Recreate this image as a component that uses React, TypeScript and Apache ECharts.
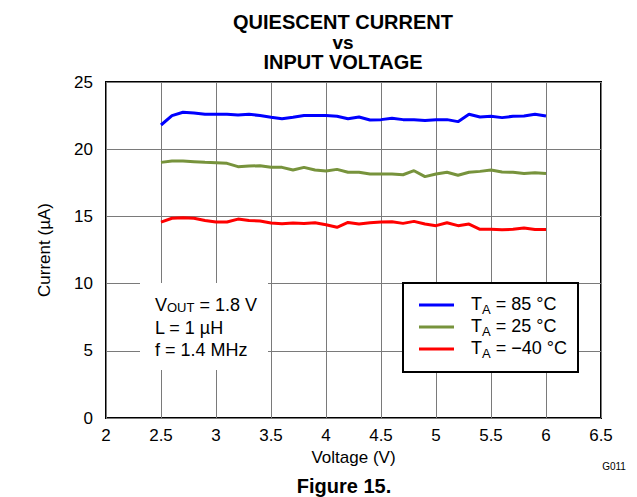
import React, { useEffect, useRef } from "react";
import * as echarts from "echarts";

const voltage = [2.5, 2.6, 2.7, 2.8, 2.9, 3.0, 3.1, 3.2, 3.3, 3.4, 3.5, 3.6, 3.7, 3.8, 3.9, 4.0, 4.1, 4.2, 4.3, 4.4, 4.5, 4.6, 4.7, 4.8, 4.9, 5.0, 5.1, 5.2, 5.3, 5.4, 5.5, 5.6, 5.7, 5.8, 5.9, 6.0];
const current85 = [21.8, 22.5, 22.75, 22.7, 22.6, 22.6, 22.6, 22.55, 22.6, 22.5, 22.37, 22.27, 22.37, 22.5, 22.5, 22.5, 22.45, 22.27, 22.4, 22.17, 22.2, 22.3, 22.2, 22.2, 22.14, 22.2, 22.2, 22.05, 22.6, 22.4, 22.45, 22.35, 22.45, 22.47, 22.6, 22.47];
const current25 = [19.02, 19.12, 19.12, 19.07, 19.02, 19.0, 18.95, 18.7, 18.75, 18.77, 18.65, 18.65, 18.45, 18.65, 18.45, 18.38, 18.5, 18.28, 18.28, 18.15, 18.15, 18.15, 18.1, 18.4, 17.96, 18.15, 18.28, 18.06, 18.28, 18.35, 18.45, 18.3, 18.28, 18.2, 18.25, 18.2];
const currentNeg40 = [14.58, 14.86, 14.9, 14.86, 14.7, 14.58, 14.58, 14.8, 14.7, 14.66, 14.51, 14.46, 14.51, 14.48, 14.53, 14.38, 14.19, 14.55, 14.43, 14.53, 14.58, 14.6, 14.48, 14.63, 14.43, 14.31, 14.53, 14.31, 14.43, 14.04, 14.04, 14.0, 14.04, 14.14, 14.02, 14.02];

const seriesNames = ["TA = 85 °C", "TA = 25 °C", "TA = −40 °C"];
const legendSuffix = [" = 85 °C", " = 25 °C", " = −40 °C"];
const seriesColors = ["#0000FF", "#77933C", "#FF0000"];

const FONT = "'Liberation Sans', Arial, sans-serif";

export default function App() {
  const ref = useRef<HTMLDivElement>(null);
  useEffect(() => {
    if (!ref.current) return;
    const chart = echarts.init(ref.current, null, { renderer: "svg" });
    const allSeries = [current85, current25, currentNeg40];
    const subRich = {
      t: { fontSize: 18, fontFamily: FONT, color: "#000", lineHeight: 20, verticalAlign: "top" },
      t0: { fontSize: 18, fontFamily: FONT, color: "#000", lineHeight: 20, verticalAlign: "top", padding: [0, 0, 0, 12] },
      s: { fontSize: 13, fontFamily: FONT, color: "#000", lineHeight: 13, verticalAlign: "top", padding: [8, 0, 0, 0] },
    };
    const capRich = {
      m: { fontSize: 18, fontFamily: FONT, color: "#000", lineHeight: 18, verticalAlign: "bottom" },
      c: { fontSize: 13, fontFamily: FONT, color: "#000", lineHeight: 13, verticalAlign: "bottom" },
    };
    const option: any = {
      animation: false,
      backgroundColor: "#fff",
      textStyle: { fontFamily: FONT },
      grid: {
        left: 106,
        top: 82,
        width: 495,
        height: 336,
        show: true,
        borderColor: "#000",
        borderWidth: 2,
        backgroundColor: "transparent",
        containLabel: false,
      },
      xAxis: {
        type: "value",
        min: 2,
        max: 6.5,
        interval: 0.5,
        name: "Voltage (V)",
        nameLocation: "middle",
        nameGap: 30,
        nameTextStyle: { fontSize: 17, color: "#000", fontFamily: FONT },
        axisLine: { show: false },
        axisTick: { show: false },
        axisLabel: { fontSize: 17, color: "#000", margin: 9, fontFamily: FONT },
        splitLine: { show: true, lineStyle: { color: "#7a7a7a", width: 1 } },
      },
      yAxis: {
        type: "value",
        min: 0,
        max: 25,
        interval: 5,
        name: "Current (µA)",
        nameLocation: "middle",
        nameGap: 53,
        nameTextStyle: { fontSize: 17, color: "#000", fontFamily: FONT },
        axisLine: { show: false },
        axisTick: { show: false },
        axisLabel: { fontSize: 17, color: "#000", margin: 13, fontFamily: FONT },
        splitLine: { show: true, lineStyle: { color: "#7a7a7a", width: 1 } },
      },
      legend: {
        show: true,
        orient: "vertical",
        left: 419,
        top: 295,
        padding: 0,
        itemGap: 1,
        itemWidth: 35,
        itemHeight: 3,
        icon: "rect",
        z: 20,
        data: seriesNames,
        formatter: (name: string) => {
          const i = seriesNames.indexOf(name);
          return `{t0|T}{s|A}{t|${legendSuffix[i]}}`;
        },
        textStyle: { fontSize: 18, color: "#000", fontFamily: FONT, rich: subRich },
      },
      graphic: [
        {
          type: "rect",
          z: 15,
          shape: { x: 403, y: 283, width: 175, height: 89 },
          style: { fill: "#fff", stroke: "#000", lineWidth: 2 },
        },
        {
          type: "rect",
          z: 15,
          shape: { x: 140, y: 283, width: 128, height: 87 },
          style: { fill: "#fff" },
        },
        {
          type: "text",
          z: 16,
          x: 155,
          y: 296,
          style: { text: "{m|V}{c|OUT}{m| = 1.8 V}", rich: capRich, fill: "#000" },
        },
        {
          type: "text",
          z: 16,
          x: 155,
          y: 319,
          style: { text: "L = 1 µH", font: `18px ${FONT}`, fill: "#000" },
        },
        {
          type: "text",
          z: 16,
          x: 155,
          y: 341,
          style: { text: "f = 1.4 MHz", font: `18px ${FONT}`, fill: "#000" },
        },
        {
          type: "text",
          x: 343,
          y: 22,
          style: { text: "QUIESCENT CURRENT", font: `bold 20px ${FONT}`, fill: "#000", textAlign: "center", textVerticalAlign: "middle" },
        },
        {
          type: "text",
          x: 343,
          y: 42,
          style: { text: "vs", font: `bold 19px ${FONT}`, fill: "#000", textAlign: "center", textVerticalAlign: "middle" },
        },
        {
          type: "text",
          x: 343,
          y: 62,
          style: { text: "INPUT VOLTAGE", font: `bold 20px ${FONT}`, fill: "#000", textAlign: "center", textVerticalAlign: "middle" },
        },
        {
          type: "text",
          x: 614,
          y: 466,
          style: { text: "G011", font: `10px ${FONT}`, fill: "#000", textAlign: "center", textVerticalAlign: "middle" },
        },
        {
          type: "text",
          x: 344,
          y: 486,
          style: { text: "Figure 15.", font: `bold 20px ${FONT}`, fill: "#000", textAlign: "center", textVerticalAlign: "middle" },
        },
      ],
      series: allSeries.map((vals, i) => ({
        name: seriesNames[i],
        type: "line",
        showSymbol: false,
        symbol: "none",
        z: 5,
        color: seriesColors[i],
        lineStyle: { color: seriesColors[i], width: 3 },
        itemStyle: { color: seriesColors[i] },
        data: voltage.map((v, j) => [v, vals[j]]),
      })),
    };
    chart.setOption(option);
    return () => chart.dispose();
  }, []);
  return (
    <div
      ref={ref}
      style={{ position: "fixed", left: 0, top: 0, width: 637, height: 497 }}
    />
  );
}
